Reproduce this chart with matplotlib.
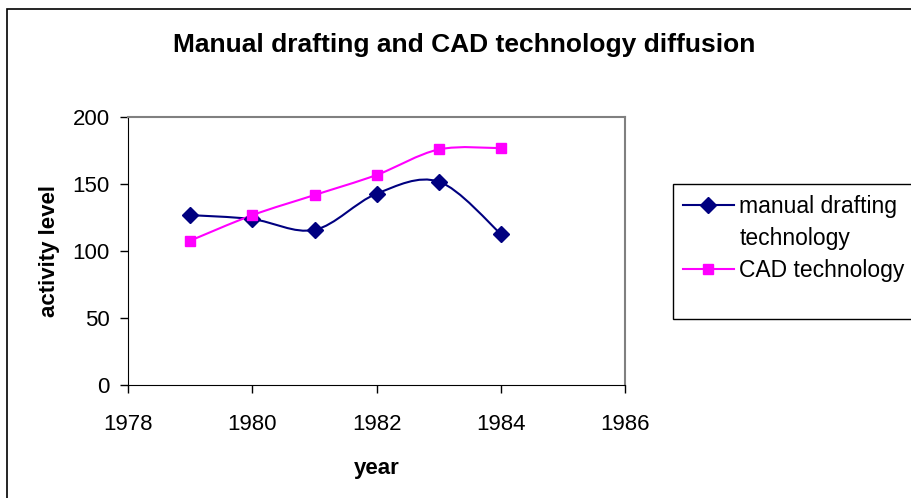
import matplotlib
matplotlib.use('Agg')
import matplotlib.pyplot as plt
from matplotlib.path import Path
from matplotlib.patches import PathPatch, Rectangle
from matplotlib.lines import Line2D

plt.rcParams['font.family'] = ['Liberation Sans', 'DejaVu Sans']

years = [1979, 1980, 1981, 1982, 1983, 1984]
manual = [127, 124, 116, 143, 152, 113]
cad = [108, 127, 142, 157, 176, 177]

manual_color = '#000080'
cad_color = '#FF00FF'


def smooth_path(xs, ys):
    # Excel-style smoothed line as cubic Bezier segments through the data points
    pts = list(zip(xs, ys))
    ext = [pts[0]] + pts + [pts[-1]]
    verts = [pts[0]]
    codes = [Path.MOVETO]
    for i in range(1, len(ext) - 2):
        p0, p1, p2, p3 = ext[i - 1], ext[i], ext[i + 1], ext[i + 2]
        c1 = (p1[0] + (p2[0] - p0[0]) / 6, p1[1] + (p2[1] - p0[1]) / 6)
        c2 = (p2[0] - (p3[0] - p1[0]) / 6, p2[1] - (p3[1] - p1[1]) / 6)
        verts += [c1, c2, p2]
        codes += [Path.CURVE4] * 3
    return Path(verts, codes)


fig = plt.figure(figsize=(9.12, 4.98), dpi=100)
ax = fig.add_axes([128.3 / 912, 1 - 385.3 / 498, (625 - 128.3) / 912, (385.3 - 117.3) / 498])

for vals, color, marker, ms in [(manual, manual_color, 'D', 8.5), (cad, cad_color, 's', 7.7)]:
    ax.add_patch(PathPatch(smooth_path(years, vals), facecolor='none', edgecolor=color, lw=1.5, zorder=2))
    ax.plot(years, vals, linestyle='none', marker=marker, ms=ms, color=color, zorder=3)

ax.set_xlim(1978, 1986)
ax.set_ylim(0, 200)
ax.set_xticks([1978, 1980, 1982, 1984, 1986])
ax.set_yticks([0, 50, 100, 150, 200])
ax.tick_params(direction='out', length=6, width=1, labelsize=16)
ax.tick_params(axis='x', pad=15)
ax.tick_params(axis='y', pad=7.5)
for side in ['top', 'right']:
    ax.spines[side].set_color('#808080')
    ax.spines[side].set_linewidth(1.5)
for side in ['left', 'bottom']:
    ax.spines[side].set_color('black')

ax.set_xlabel('year', fontsize=16, fontweight='bold', labelpad=16)
ax.set_ylabel('activity level', fontsize=16, fontweight='bold', labelpad=9)
fig.text(464 / 912, 1 - 45 / 498, 'Manual drafting and CAD technology diffusion',
         fontsize=19, fontweight='bold', ha='center', va='center')

# legend frame and entries; the second label line gets an empty handle so the
# marker sits on the first line like in the original
fig.patches.append(Rectangle((673 / 912, 1 - 319 / 498), 1, (319 - 184) / 498,
                             transform=fig.transFigure, facecolor='white', edgecolor='black', lw=1))
handles = [Line2D([], [], color=manual_color, marker='D', ms=8, lw=1.5),
           Line2D([], [], linestyle='none'),
           Line2D([], [], color=cad_color, marker='s', ms=7.5, lw=1.5)]
leg = fig.legend(handles, ['manual drafting', 'technology', 'CAD technology'],
                 loc='upper left', bbox_to_anchor=(674 / 912, 1 - 186 / 498), frameon=False,
                 fontsize=16.5, handlelength=2.2, handletextpad=0.25, labelspacing=0.4,
                 borderaxespad=0)

# outer chart border (cut off at right and bottom)
fig.patches.append(Rectangle((7 / 912, -0.5), 2, 1.5 - 9 / 498,
                             transform=fig.transFigure, facecolor='none', edgecolor='black', lw=1.2))

fig.savefig('out.png', dpi=100)
